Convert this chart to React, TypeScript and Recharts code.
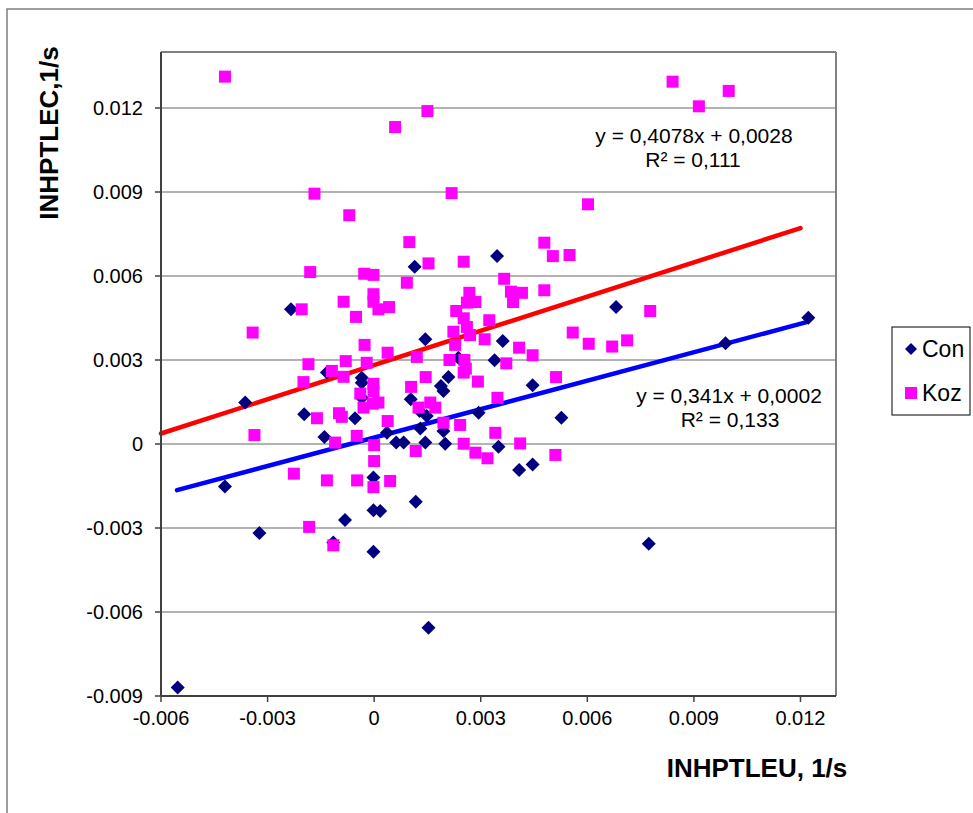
import {
  CartesianGrid,
  Customized,
  ReferenceLine,
  Scatter,
  ScatterChart,
  XAxis,
  YAxis,
} from 'recharts';

// values, in units of 1/s
const conX = [
  0.00346, 0.00681, 0.01222, 0.00989, 0.00362, 0.00339, 0.00446, 0.00527, 0.0035, 0.00408,
  0.00446, 0.00773, -0.0042, -0.00323, -0.00553, -0.00082, -0.00002, 0.00017, -0.00002, 0.00117,
  0.00153, -0.00002, -0.00115, -0.00234, 0.00114, 0.00144, -0.00133, -0.00035, -0.00035, -0.00035,
  -0.00197, -0.00054, -0.0014, 0.00036, 0.00062, 0.00083, 0.00144, 0.00103, 0.00128, 0.00148,
  0.0013, -0.00363, 0.002, 0.00209, 0.00188, 0.00195, 0.00195, 0.00237, 0.00294,
];
const conY = [
  0.00671, 0.00489, 0.00451, 0.0036, 0.00368, 0.00299, 0.0021, 0.00094, -0.0001, -0.00093,
  -0.00073, -0.00356, -0.00152, -0.00318, -0.0087, -0.00271, -0.00237, -0.00239, -0.00385, -0.00206,
  -0.00656, -0.0012, -0.00352, 0.00481, 0.00633, 0.00374, 0.00255, 0.00237, 0.00219, 0.00165,
  0.00106, 0.00092, 0.00025, 0.0004, 0.00005, 0.00005, 0.00005, 0.0016, 0.00118, 0.001,
  0.00055, 0.00148, 0.00001, 0.00239, 0.00207, 0.00189, 0.00046, 0.00308, 0.00112,
];

const kozX = [
  -0.0042, 0.00059, 0.0015, -0.00168, 0.00218, -0.0007, 0.00099, 0.0084, 0.00914, 0.00998,
  0.00602, 0.00479, 0.00503, 0.0055, 0.00366, 0.00385, 0.00416, 0.00391, 0.00479, 0.00777,
  0.00324, 0.00311, 0.00559, 0.00604, 0.0067, 0.00712, 0.00408, 0.00446, 0.00372, 0.00512,
  0.00347, 0.00341, 0.00411, 0.00319, 0.0051, -0.00226, -0.00133, -0.00048, -0.00002, 0.00045,
  -0.00183, 0.0, -0.00115, -0.0018, -0.00028, -0.00002, 0.00092, 0.00153, 0.00252, -0.00204,
  -0.00086, -0.00051, -0.00002, -0.00002, 0.00012, 0.00042, -0.00342, -0.00027, 0.00038, 0.0012,
  -0.00185, -0.0008, -0.00021, -0.00119, -0.00086, -0.00199, -0.00002, -0.00002, -0.00039, 0.00012,
  -0.0003, -0.00004, 0.00104, 0.00145, 0.00125, 0.00158, 0.00172, -0.00099, -0.00091, -0.00161,
  0.00038, 0.00195, 0.00242, -0.00337, -0.00049, -0.0011, 0.0, 0.00117, 0.00252, 0.00285,
  0.00268, 0.00261, 0.00285, 0.00231, 0.00252, 0.00223, 0.00261, 0.0027, 0.00228, 0.00212,
  0.00254, 0.00258, 0.00252, 0.00292,
];
const kozY = [
  0.01312, 0.01132, 0.01189, 0.00894, 0.00896, 0.00817, 0.00721, 0.01294, 0.01206, 0.01261,
  0.00856, 0.00719, 0.00671, 0.00675, 0.0059, 0.00544, 0.0054, 0.00507, 0.00549, 0.00475,
  0.00442, 0.00374, 0.00398, 0.00358, 0.00348, 0.0037, 0.00344, 0.00317, 0.00288, 0.00239,
  0.00165, 0.0004, 0.00002, -0.00051, -0.00039, -0.00106, -0.0013, -0.0013, -0.00154, -0.00132,
  -0.00296, -0.00061, -0.00362, 0.00614, 0.00608, 0.00604, 0.00576, 0.00645, 0.00651, 0.00481,
  0.00508, 0.00454, 0.00535, 0.00508, 0.00481, 0.00489, 0.00398, 0.00354, 0.00326, 0.00311,
  0.00285, 0.00296, 0.0029, 0.00261, 0.0024, 0.00221, 0.00215, 0.00189, 0.0018, 0.00148,
  0.0013, 0.00144, 0.00204, 0.00239, 0.0013, 0.00148, 0.0013, 0.0011, 0.00097, 0.00092,
  0.00082, 0.00076, 0.00068, 0.00032, 0.00029, 0.00005, -0.00004, -0.00025, 0.00001, -0.00031,
  0.0054, 0.00505, 0.00507, 0.00475, 0.00449, 0.00401, 0.00418, 0.00389, 0.00354, 0.003,
  0.003, 0.00269, 0.00255, 0.00223,
];

// trend line ends as drawn
const kozTrend = [
  { x: -0.006, y: 0.000375 },
  { x: 0.012, y: 0.00771 },
];
const conTrend = [
  { x: -0.00555, y: -0.00165 },
  { x: 0.01217, y: 0.00435 },
];

const axisTicksX = [-0.006, -0.003, 0, 0.003, 0.006, 0.009, 0.012];
const axisTicksY = [-0.009, -0.006, -0.003, 0, 0.003, 0.006, 0.009, 0.012];

const conData = conX.map((x, i) => ({ x, y: conY[i] }));
const kozData = kozX.map((x, i) => ({ x, y: kozY[i] }));

const FONT = '"Liberation Sans", Arial, sans-serif';
const NAVY = '#000080';
const MAGENTA = '#FF00FF';

const fmt = (v: number) => (v === 0 ? '0' : v.toFixed(3));

const Diamond = (p: any) => {
  const { cx, cy } = p;
  const r = 7;
  return (
    <polygon
      points={`${cx},${cy - r} ${cx + r},${cy} ${cx},${cy + r} ${cx - r},${cy}`}
      fill={NAVY}
    />
  );
};

const Square = (p: any) => {
  const { cx, cy } = p;
  return <rect x={cx - 6} y={cy - 6} width={12} height={12} fill={MAGENTA} />;
};

const Notes = () => (
  <g fontFamily={FONT} fill="#000">
    <text x={49} y={133} fontSize={26} fontWeight="bold" textAnchor="middle" dominantBaseline="central" transform="rotate(-90 49 133)">
      INHPTLEC,1/s
    </text>
    <text x={757} y={777} fontSize={26} fontWeight="bold" textAnchor="middle">
      INHPTLEU, 1/s
    </text>
    <text x={694} y={143} fontSize={21} textAnchor="middle">y = 0,4078x + 0,0028</text>
    <text x={693} y={167} fontSize={21} textAnchor="middle">R² = 0,111</text>
    <text x={729} y={403} fontSize={21} textAnchor="middle">y = 0,341x + 0,0002</text>
    <text x={730} y={427} fontSize={21} textAnchor="middle">R² = 0,133</text>
    <rect x={7} y={9} width={1000} height={900} fill="none" stroke="#7f7f7f" strokeWidth={1.5} />
    {/* legend */}
    <rect x={892} y={327} width={78} height={88} fill="#fff" stroke="#000" strokeWidth={1} />
    <polygon points="911,343 917,349 911,355 905,349" fill={NAVY} />
    <text x={922} y={357} fontSize={23}>Con</text>
    <rect x={905} y={387} width={12} height={12} fill={MAGENTA} />
    <text x={922} y={401} fontSize={23}>Koz</text>
  </g>
);

export default function App() {
  return (
    <div style={{ position: 'absolute', left: 0, top: 0, width: 973, height: 813, background: '#fff' }}>
      <ScatterChart
        width={973}
        height={813}
        margin={{ top: 52, right: 137, bottom: 77, left: 81 }}
      >
        <CartesianGrid vertical={false} stroke="#666" strokeWidth={1} />
        <XAxis
          type="number"
          dataKey="x"
          domain={[-0.006, 0.013]}
          ticks={axisTicksX}
          tickFormatter={fmt}
          allowDataOverflow
          height={40}
          tickSize={6}
          tickMargin={9}
          axisLine={{ stroke: '#404040', strokeWidth: 2 }}
          tickLine={{ stroke: '#404040', strokeWidth: 1.5 }}
          tick={{ fontSize: 20, fontFamily: FONT, fill: '#000' }}
        />
        <YAxis
          type="number"
          dataKey="y"
          domain={[-0.009, 0.014]}
          ticks={axisTicksY}
          tickFormatter={fmt}
          allowDataOverflow
          width={80}
          tickSize={6}
          tickMargin={12}
          axisLine={{ stroke: '#404040', strokeWidth: 2 }}
          tickLine={{ stroke: '#404040', strokeWidth: 1.5 }}
          tick={{ fontSize: 20, fontFamily: FONT, fill: '#000' }}
        />
        <ReferenceLine y={0.014} stroke="#808080" strokeWidth={2} />
        <ReferenceLine x={0.013} stroke="#808080" strokeWidth={2} />
        <Scatter name="Con" data={conData} shape={Diamond} isAnimationActive={false} />
        <Scatter name="Koz" data={kozData} shape={Square} isAnimationActive={false} />
        <ReferenceLine segment={kozTrend} stroke="#FF0000" strokeWidth={4.5} strokeLinecap="round" />
        <ReferenceLine segment={conTrend} stroke="#0000FF" strokeWidth={4.5} strokeLinecap="round" />
        <Customized component={Notes} />
      </ScatterChart>
    </div>
  );
}
